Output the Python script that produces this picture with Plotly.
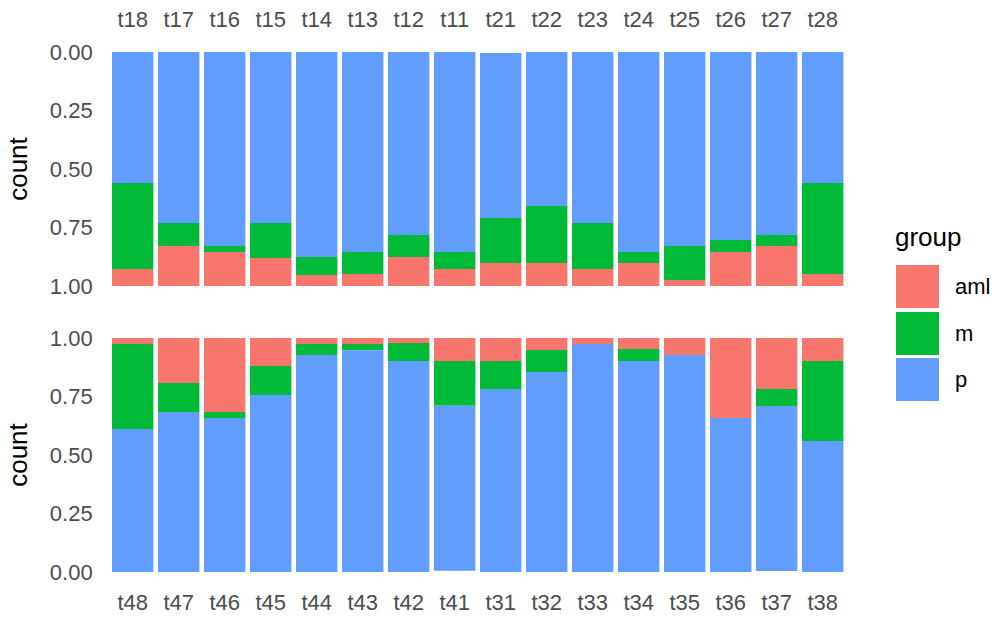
import plotly.graph_objects as go

# Proportions per sample, top panel (y axis reversed)
top_labels = ["t18", "t17", "t16", "t15", "t14", "t13", "t12", "t11",
              "t21", "t22", "t23", "t24", "t25", "t26", "t27", "t28"]
top_p = [0.560, 0.731, 0.829, 0.731, 0.876, 0.855, 0.782, 0.855,
         0.705, 0.658, 0.731, 0.855, 0.829, 0.803, 0.782, 0.560]
top_m = [0.367, 0.098, 0.026, 0.149, 0.077, 0.094, 0.094, 0.072,
         0.193, 0.244, 0.196, 0.047, 0.145, 0.052, 0.047, 0.389]
top_aml = [0.073, 0.171, 0.145, 0.120, 0.047, 0.051, 0.124, 0.073,
           0.098, 0.098, 0.073, 0.098, 0.026, 0.145, 0.171, 0.051]

# Proportions per sample, bottom panel
bot_labels = ["t48", "t47", "t46", "t45", "t44", "t43", "t42", "t41",
              "t31", "t32", "t33", "t34", "t35", "t36", "t37", "t38"]
bot_p = [0.611, 0.684, 0.658, 0.756, 0.927, 0.949, 0.902, 0.705,
         0.782, 0.855, 0.974, 0.902, 0.927, 0.658, 0.705, 0.560]
bot_m = [0.363, 0.124, 0.026, 0.124, 0.047, 0.026, 0.077, 0.192,
         0.120, 0.094, 0.000, 0.051, 0.000, 0.000, 0.073, 0.342]
bot_aml = [0.026, 0.192, 0.316, 0.120, 0.026, 0.026, 0.021, 0.098,
           0.098, 0.051, 0.026, 0.047, 0.073, 0.342, 0.218, 0.098]

groups = ["aml", "m", "p"]
colors = {"aml": "#F8766D", "m": "#00BA38", "p": "#619CFF"}

W, H = 998, 619
FONT = "Liberation Sans, Arial, sans-serif"
TICK_COLOR = "#4D4D4D"

fig = go.Figure()


def add_panel(labels, p, m, aml, xaxis, yaxis):
    # stack from 1 downward: aml, then m, then p
    base_aml = [1 - a for a in aml]
    base_m = [b - v for b, v in zip(base_aml, m)]
    base_p = [b - v for b, v in zip(base_m, p)]
    series = {"aml": (aml, base_aml), "m": (m, base_m), "p": (p, base_p)}
    for g in groups:
        vals, base = series[g]
        fig.add_trace(go.Bar(
            x=labels, y=vals, base=base, name=g,
            marker=dict(color=colors[g], line=dict(width=0)),
            xaxis=xaxis, yaxis=yaxis, showlegend=False,
        ))


add_panel(top_labels, top_p, top_m, top_aml, "x", "y")
add_panel(bot_labels, bot_p, bot_m, bot_aml, "x2", "y2")

x0, x1 = 109.7 / W, 845.7 / W


def ydom(top_px, bot_px):
    return [1 - bot_px / H, 1 - top_px / H]


axis_font = dict(family=FONT, size=22, color=TICK_COLOR)
title_font = dict(family=FONT, size=26, color="black")
ticks = [0, 0.25, 0.5, 0.75, 1]
ticktext = ["0.00", "0.25", "0.50", "0.75", "1.00"]

common_x = dict(type="category", range=[-0.5, 15.5], showgrid=False,
                zeroline=False, showline=False, ticks="",
                tickfont=axis_font, automargin=False)
common_y = dict(tickvals=ticks, ticktext=ticktext, showgrid=False,
                zeroline=False, showline=False, ticks="",
                tickfont=axis_font, ticklabelstandoff=16, automargin=False,
                title=dict(text="count", font=title_font, standoff=14))

fig.update_layout(
    width=W, height=H,
    margin=dict(l=0, r=0, t=0, b=0),
    paper_bgcolor="white", plot_bgcolor="white",
    barmode="overlay", bargap=0.1,
    xaxis=dict(domain=[x0, x1], anchor="y", side="top",
               ticklabelstandoff=20, **common_x),
    yaxis=dict(domain=ydom(52, 286), anchor="x", range=[1, 0], **common_y),
    xaxis2=dict(domain=[x0, x1], anchor="y2", side="bottom",
                ticklabelstandoff=15, **common_x),
    yaxis2=dict(domain=ydom(338, 572), anchor="x2", range=[0, 1], **common_y),
)

# Legend drawn as keys + labels
fig.add_annotation(x=893 / W, y=1 - 237 / H, xref="paper", yref="paper",
                   text="group", showarrow=False, xanchor="left",
                   yanchor="middle", font=dict(family=FONT, size=26, color="black"))
key_top = [265, 312, 358]
for g, kt in zip(groups, key_top):
    fig.add_shape(type="rect", xref="paper", yref="paper",
                  x0=896 / W, x1=939 / W, y0=1 - (kt + 43) / H, y1=1 - kt / H,
                  fillcolor=colors[g], line=dict(width=0))
    fig.add_annotation(x=953 / W, y=1 - (kt + 21.5) / H, xref="paper",
                       yref="paper", text=g, showarrow=False, xanchor="left",
                       yanchor="middle",
                       font=dict(family=FONT, size=22, color="black"))

fig.write_html("out.html")
